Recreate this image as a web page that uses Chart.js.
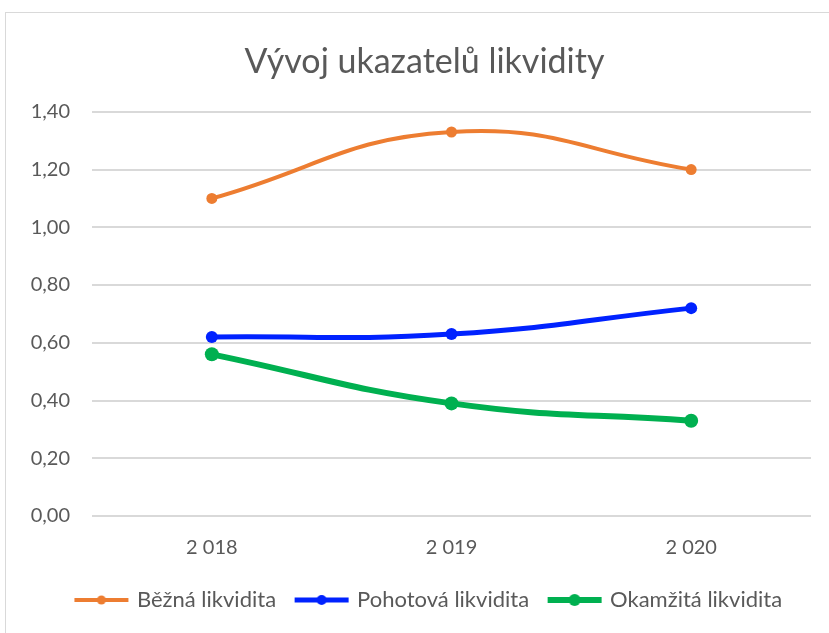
<!DOCTYPE html>
<html>
<head>
<meta charset="utf-8">
<script src="https://cdn.jsdelivr.net/npm/chart.js@4"></script>
<style>
    html, body { margin: 0; padding: 0; background: #fff; }
    .frame {
        position: absolute; left: 5px; top: 12px; width: 840px; height: 640px;
        border: 1px solid #d9d9d9; box-sizing: border-box;
    }
    .wrap { position: absolute; left: 0; top: 0; width: 829px; height: 633px; }
</style>
</head>
<body>
<div class="frame"></div>
<div class="wrap"><canvas id="liquidityChart"></canvas></div>
<script>
// Data
const years = ['2 018', '2 019', '2 020'];
const seriesNames = ['Běžná likvidita', 'Pohotová likvidita', 'Okamžitá likvidita'];
const bezna = [1.10, 1.33, 1.20];
const pohotova = [0.62, 0.63, 0.72];
const okamzita = [0.56, 0.39, 0.33];
const yTicks = [0, 0.2, 0.4, 0.6, 0.8, 1.0, 1.2, 1.4];

const colors = ['#ED7D31', '#0022FF', '#00B050'];
const widths = [4, 5, 6];
const radii = [5.5, 6, 7];
const fontFamily = 'Lato, "Open Sans", sans-serif';
const textColor = '#595959';

// legend marker: line with dot
function legendMarker(color, lw, r) {
    const c = document.createElement('canvas');
    c.width = 56; c.height = 16;
    const ctx = c.getContext('2d');
    ctx.strokeStyle = color;
    ctx.lineWidth = lw;
    ctx.beginPath();
    ctx.moveTo(1, 8);
    ctx.lineTo(55, 8);
    ctx.stroke();
    ctx.fillStyle = color;
    ctx.beginPath();
    ctx.arc(28, 8, r, 0, Math.PI * 2);
    ctx.fill();
    return c;
}

// the original chart box is wider than the window, so title and legend sit right of centre
const shiftBoxes = {
    id: 'shiftBoxes',
    afterLayout: function(chart) {
        if (chart.titleBlock) { chart.titleBlock.left += 19; chart.titleBlock.right += 19; }
        if (chart.legend) { chart.legend.left += 24; chart.legend.right += 24; }
    }
};

const seriesData = [bezna, pohotova, okamzita];
const datasets = seriesData.map((d, i) => ({
    label: seriesNames[i],
    data: d,
    borderColor: colors[i],
    backgroundColor: colors[i],
    borderWidth: widths[i],
    pointRadius: radii[i],
    pointHoverRadius: radii[i],
    pointBorderWidth: 0,
    tension: 0.45,
    pointStyle: 'circle',
    legendMarker: legendMarker(colors[i], widths[i], radii[i] - 1)
}));

new Chart(document.getElementById('liquidityChart'), {
    type: 'line',
    data: { labels: years, datasets: datasets },
    plugins: [shiftBoxes],
    options: {
        responsive: true,
        maintainAspectRatio: false,
        animation: false,
        layout: { padding: { left: 0, right: 18, top: 32, bottom: 12 } },
        plugins: {
            title: {
                display: true,
                text: 'Vývoj ukazatelů likvidity',
                color: textColor,
                font: { family: fontFamily, size: 34, weight: 'normal' },
                padding: { top: 10, bottom: 29 }
            },
            legend: {
                position: 'bottom',
                labels: {
                    color: textColor,
                    font: { family: fontFamily, size: 22 },
                    usePointStyle: true,
                    pointStyleWidth: 49,
                    padding: 21,
                    generateLabels: function(chart) {
                        return chart.data.datasets.map((ds, i) => ({
                            text: ds.label,
                            pointStyle: ds.legendMarker,
                            fontColor: textColor,
                            lineWidth: 0,
                            hidden: false,
                            datasetIndex: i
                        }));
                    }
                }
            },
            tooltip: { enabled: false }
        },
        scales: {
            x: {
                offset: true,
                afterFit: function(axis) { axis.height -= 4; },
                grid: { display: false },
                border: { display: false },
                ticks: {
                    color: textColor,
                    font: { family: fontFamily, size: 20 },
                    padding: 12
                }
            },
            y: {
                min: 0,
                max: 1.4,
                afterBuildTicks: function(axis) {
                    axis.ticks = yTicks.map(v => ({ value: v }));
                },
                afterFit: function(axis) { axis.width = 92; },
                grid: { color: '#d9d9d9', lineWidth: 2, drawTicks: false },
                border: { display: false },
                ticks: {
                    color: textColor,
                    font: { family: fontFamily, size: 20 },
                    padding: 22,
                    callback: function(v) { return v.toFixed(2).replace('.', ','); }
                }
            }
        }
    }
});
</script>
</body>
</html>
